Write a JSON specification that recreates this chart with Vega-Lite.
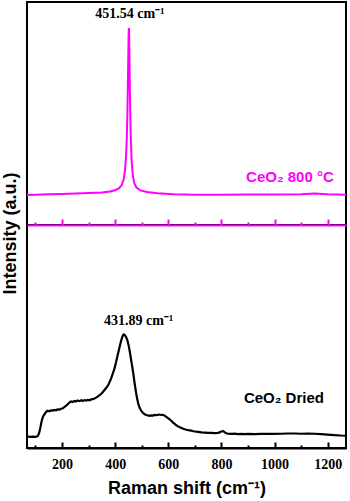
{
  "$schema": "https://vega.github.io/schema/vega-lite/v6.json",
  "padding": {"left": 0, "top": 1, "right": 3, "bottom": 3},
  "background": "white",
  "spacing": 0,
  "bounds": "flush",
  "config": {
    "view": {"stroke": "black", "strokeWidth": 2},
    "axis": {"grid": false}
  },
  "datasets": {
    "calcined": [
      {"shift": 68, "intensity": 13.5}, {"shift": 100, "intensity": 13.6}, {"shift": 150, "intensity": 13.8},
      {"shift": 200, "intensity": 13.9}, {"shift": 250, "intensity": 14.1}, {"shift": 300, "intensity": 14.3},
      {"shift": 350, "intensity": 14.6}, {"shift": 380, "intensity": 15.0}, {"shift": 400, "intensity": 15.6},
      {"shift": 415, "intensity": 16.5}, {"shift": 425, "intensity": 18.0}, {"shift": 432, "intensity": 20.5},
      {"shift": 437, "intensity": 24.5}, {"shift": 441, "intensity": 31.0}, {"shift": 444, "intensity": 40.0},
      {"shift": 446, "intensity": 50.0}, {"shift": 448, "intensity": 64.0}, {"shift": 449.5, "intensity": 77.0},
      {"shift": 450.5, "intensity": 85.0}, {"shift": 451.5, "intensity": 88.3}, {"shift": 452.5, "intensity": 85.0},
      {"shift": 453.5, "intensity": 77.0}, {"shift": 455, "intensity": 63.0}, {"shift": 457, "intensity": 48.0},
      {"shift": 459, "intensity": 38.0}, {"shift": 462, "intensity": 29.0}, {"shift": 466, "intensity": 22.5},
      {"shift": 472, "intensity": 18.8}, {"shift": 480, "intensity": 16.8}, {"shift": 495, "intensity": 15.5},
      {"shift": 520, "intensity": 14.8}, {"shift": 560, "intensity": 14.2}, {"shift": 620, "intensity": 13.8},
      {"shift": 700, "intensity": 13.6}, {"shift": 800, "intensity": 13.6}, {"shift": 900, "intensity": 13.7},
      {"shift": 1000, "intensity": 13.7}, {"shift": 1100, "intensity": 13.8}, {"shift": 1150, "intensity": 14.1},
      {"shift": 1200, "intensity": 13.8}, {"shift": 1269, "intensity": 13.6}
    ],
    "dried": [
      {"shift": 68, "intensity": 5.2}, {"shift": 80, "intensity": 5.0}, {"shift": 90, "intensity": 5.1},
      {"shift": 100, "intensity": 5.0}, {"shift": 108, "intensity": 5.3}, {"shift": 113, "intensity": 6.5},
      {"shift": 118, "intensity": 9.0}, {"shift": 123, "intensity": 12.0}, {"shift": 128, "intensity": 14.0},
      {"shift": 133, "intensity": 15.0}, {"shift": 140, "intensity": 16.2}, {"shift": 146, "intensity": 16.7},
      {"shift": 152, "intensity": 16.5}, {"shift": 158, "intensity": 16.9}, {"shift": 164, "intensity": 16.8},
      {"shift": 171, "intensity": 17.1}, {"shift": 177, "intensity": 16.9}, {"shift": 183, "intensity": 17.3},
      {"shift": 190, "intensity": 17.2}, {"shift": 196, "intensity": 17.6}, {"shift": 203, "intensity": 17.8},
      {"shift": 209, "intensity": 18.4}, {"shift": 215, "intensity": 18.9}, {"shift": 221, "intensity": 19.6},
      {"shift": 227, "intensity": 20.3}, {"shift": 233, "intensity": 20.9}, {"shift": 240, "intensity": 20.6},
      {"shift": 246, "intensity": 21.1}, {"shift": 252, "intensity": 20.8}, {"shift": 258, "intensity": 21.3},
      {"shift": 265, "intensity": 21.0}, {"shift": 272, "intensity": 21.4}, {"shift": 278, "intensity": 21.1},
      {"shift": 285, "intensity": 21.5}, {"shift": 291, "intensity": 21.3}, {"shift": 297, "intensity": 21.6},
      {"shift": 303, "intensity": 21.4}, {"shift": 310, "intensity": 21.8}, {"shift": 316, "intensity": 21.9},
      {"shift": 322, "intensity": 22.2}, {"shift": 328, "intensity": 22.6}, {"shift": 334, "intensity": 23.0},
      {"shift": 340, "intensity": 23.6}, {"shift": 347, "intensity": 24.2}, {"shift": 353, "intensity": 25.0},
      {"shift": 359, "intensity": 25.9}, {"shift": 365, "intensity": 26.8}, {"shift": 372, "intensity": 27.8},
      {"shift": 378, "intensity": 29.3}, {"shift": 384, "intensity": 31.0}, {"shift": 390, "intensity": 33.0},
      {"shift": 397, "intensity": 35.5}, {"shift": 403, "intensity": 38.3}, {"shift": 409, "intensity": 41.5},
      {"shift": 416, "intensity": 45.0}, {"shift": 422, "intensity": 48.0}, {"shift": 428, "intensity": 50.2},
      {"shift": 432, "intensity": 50.9}, {"shift": 436, "intensity": 50.6}, {"shift": 441, "intensity": 49.8},
      {"shift": 446, "intensity": 48.3}, {"shift": 451, "intensity": 45.8}, {"shift": 456, "intensity": 42.5},
      {"shift": 461, "intensity": 38.8}, {"shift": 467, "intensity": 34.5}, {"shift": 472, "intensity": 30.0},
      {"shift": 477, "intensity": 26.0}, {"shift": 482, "intensity": 22.5}, {"shift": 487, "intensity": 19.8},
      {"shift": 493, "intensity": 17.8}, {"shift": 499, "intensity": 16.5}, {"shift": 505, "intensity": 15.7},
      {"shift": 511, "intensity": 15.1}, {"shift": 517, "intensity": 14.8}, {"shift": 523, "intensity": 14.6},
      {"shift": 530, "intensity": 14.4}, {"shift": 536, "intensity": 14.6}, {"shift": 542, "intensity": 14.5},
      {"shift": 548, "intensity": 14.8}, {"shift": 555, "intensity": 14.7}, {"shift": 561, "intensity": 14.9},
      {"shift": 567, "intensity": 15.0}, {"shift": 574, "intensity": 14.8}, {"shift": 580, "intensity": 14.9},
      {"shift": 586, "intensity": 14.5}, {"shift": 592, "intensity": 14.0}, {"shift": 599, "intensity": 13.4},
      {"shift": 605, "intensity": 12.8}, {"shift": 612, "intensity": 12.1}, {"shift": 618, "intensity": 11.4},
      {"shift": 624, "intensity": 10.8}, {"shift": 630, "intensity": 10.2}, {"shift": 637, "intensity": 9.7},
      {"shift": 643, "intensity": 9.3}, {"shift": 650, "intensity": 9.0}, {"shift": 656, "intensity": 8.6},
      {"shift": 662, "intensity": 8.4}, {"shift": 668, "intensity": 8.2}, {"shift": 675, "intensity": 8.0},
      {"shift": 681, "intensity": 7.9}, {"shift": 687, "intensity": 7.8}, {"shift": 694, "intensity": 7.5},
      {"shift": 700, "intensity": 7.4}, {"shift": 712, "intensity": 7.2}, {"shift": 725, "intensity": 7.0},
      {"shift": 737, "intensity": 6.9}, {"shift": 750, "intensity": 6.8}, {"shift": 762, "intensity": 6.8},
      {"shift": 775, "intensity": 6.7}, {"shift": 787, "intensity": 6.8}, {"shift": 795, "intensity": 7.1},
      {"shift": 801, "intensity": 7.5}, {"shift": 806, "intensity": 7.6}, {"shift": 812, "intensity": 7.1},
      {"shift": 818, "intensity": 6.6}, {"shift": 825, "intensity": 6.4}, {"shift": 837, "intensity": 6.3},
      {"shift": 850, "intensity": 6.4}, {"shift": 862, "intensity": 6.2}, {"shift": 875, "intensity": 6.3},
      {"shift": 887, "intensity": 6.2}, {"shift": 900, "intensity": 6.3}, {"shift": 925, "intensity": 6.2},
      {"shift": 950, "intensity": 6.3}, {"shift": 975, "intensity": 6.4}, {"shift": 1000, "intensity": 6.3},
      {"shift": 1025, "intensity": 6.4}, {"shift": 1050, "intensity": 6.5}, {"shift": 1075, "intensity": 6.5},
      {"shift": 1100, "intensity": 6.4}, {"shift": 1125, "intensity": 6.5}, {"shift": 1150, "intensity": 6.4},
      {"shift": 1175, "intensity": 6.2}, {"shift": 1200, "intensity": 6.0}, {"shift": 1225, "intensity": 5.8},
      {"shift": 1250, "intensity": 5.6}, {"shift": 1269, "intensity": 5.5}
    ]
  },
  "vconcat": [
    {
      "width": 319,
      "height": 223,
      "layer": [
        {
          "data": {"name": "calcined"},
          "mark": {"type": "line", "color": "#FF00FF", "strokeWidth": 2},
          "encoding": {
            "x": {"field": "shift", "type": "quantitative", "scale": {"domain": [68, 1269], "nice": false, "zero": false}, "axis": null},
            "y": {"field": "intensity", "type": "quantitative", "scale": {"domain": [0, 100], "nice": false},
              "axis": {"title": "Intensity (a.u.)", "labels": false, "ticks": false, "domain": false,
                "titleFont": "Liberation Sans", "titleFontSize": 18, "titleFontWeight": "bold", "titleColor": "black",
                "titleX": -8, "titleY": 231}}
          }
        },
        {
          "data": {"values": [{"shift": 451.54, "intensity": 92.8, "label": "451.54 cm⁻¹"}]},
          "mark": {"type": "text", "font": "Liberation Serif", "fontWeight": "bold", "fontSize": 14, "dx": 1, "align": "center", "baseline": "alphabetic", "color": "black"},
          "encoding": {
            "x": {"field": "shift", "type": "quantitative", "axis": null},
            "y": {"field": "intensity", "type": "quantitative"},
            "text": {"field": "label"}
          }
        },
        {
          "data": {"values": [{"shift": 1223, "intensity": 19.3, "label": "CeO₂ 800 °C"}]},
          "mark": {"type": "text", "font": "Liberation Sans", "fontWeight": "bold", "fontSize": 15, "align": "right", "baseline": "alphabetic", "color": "#FF00FF"},
          "encoding": {
            "x": {"field": "shift", "type": "quantitative", "axis": null},
            "y": {"field": "intensity", "type": "quantitative"},
            "text": {"field": "label"}
          }
        }
      ]
    },
    {
      "width": 319,
      "height": 223,
      "resolve": {"axis": {"x": "independent"}},
      "layer": [
        {
          "data": {"name": "dried"},
          "mark": {"type": "line", "color": "black", "strokeWidth": 2.2},
          "encoding": {
            "x": {"field": "shift", "type": "quantitative", "scale": {"domain": [68, 1269], "nice": false, "zero": false},
              "axis": {"orient": "bottom", "values": [200, 400, 600, 800, 1000, 1200], "format": "d", "tickSize": -6, "tickWidth": 2, "tickColor": "black",
                "domainColor": "black", "domainWidth": 2, "labelFont": "Liberation Serif", "labelFontWeight": "bold", "labelFontSize": 14,
                "labelColor": "black", "labelBaseline": "alphabetic", "labelPadding": 26, "labelFlush": false,
                "title": "Raman shift (cm⁻¹)", "titleFont": "Liberation Sans", "titleFontSize": 18, "titleFontWeight": "bold",
                "titleColor": "black", "titleBaseline": "alphabetic", "titleY": 45}},
            "y": {"field": "intensity", "type": "quantitative", "scale": {"domain": [0, 100], "nice": false}, "axis": null}
          }
        },
        {
          "data": {"values": [{"shift": 431.89, "intensity": 55.2, "label": "431.89 cm⁻¹"}]},
          "mark": {"type": "text", "font": "Liberation Serif", "fontWeight": "bold", "fontSize": 14, "dx": 15, "align": "center", "baseline": "alphabetic", "color": "black"},
          "encoding": {
            "x": {"field": "shift", "type": "quantitative",
              "axis": {"orient": "bottom", "values": [100, 300, 500, 700, 900, 1100], "tickSize": -3, "tickWidth": 2, "tickColor": "black",
                "domain": false, "labels": false, "title": null}},
            "y": {"field": "intensity", "type": "quantitative", "axis": null},
            "text": {"field": "label"}
          }
        },
        {
          "data": {"values": [{"shift": 1186, "intensity": 20.0, "label": "CeO₂ Dried"}]},
          "mark": {"type": "text", "font": "Liberation Sans", "fontWeight": "bold", "fontSize": 15, "align": "right", "baseline": "alphabetic", "color": "black"},
          "encoding": {
            "x": {"field": "shift", "type": "quantitative",
              "axis": {"orient": "top", "values": [200, 400, 600, 800, 1000, 1200], "tickSize": 6, "tickWidth": 2, "tickColor": "#FF00FF",
                "domainColor": "#FF00FF", "domainWidth": 2, "labels": false, "title": null}},
            "y": {"field": "intensity", "type": "quantitative", "axis": null},
            "text": {"field": "label"}
          }
        },
        {
          "data": {"name": "dried"},
          "mark": {"type": "line", "strokeOpacity": 0},
          "encoding": {
            "x": {"field": "shift", "type": "quantitative",
              "axis": {"orient": "top", "values": [100, 300, 500, 700, 900, 1100], "tickSize": 3, "tickWidth": 2, "tickColor": "#FF00FF",
                "domain": false, "labels": false, "title": null}},
            "y": {"field": "intensity", "type": "quantitative", "axis": null}
          }
        }
      ]
    }
  ]
}
